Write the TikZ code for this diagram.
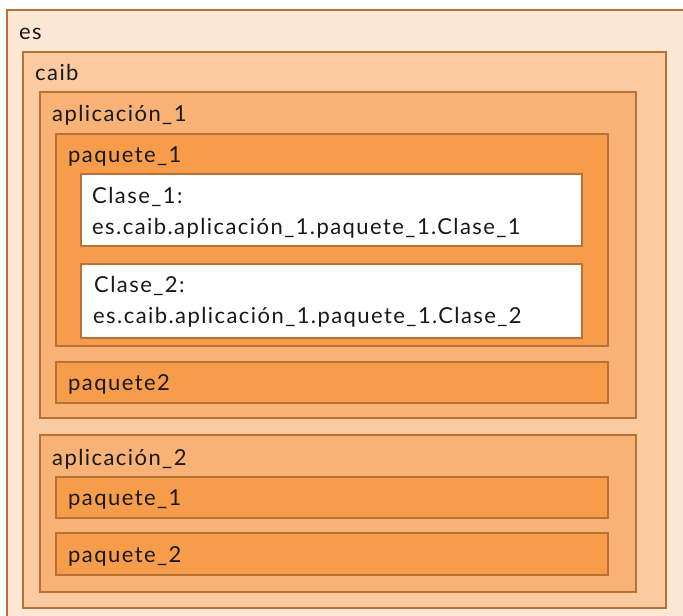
\documentclass[tikz,border=0pt]{standalone}
\usepackage{fontspec}
\setmainfont[LetterSpace=6.5]{Lato}
\usepackage{tikz}
\definecolor{esfill}{RGB}{253,232,214}
\definecolor{caibfill}{RGB}{250,202,160}
\definecolor{appfill}{RGB}{248,178,117}
\definecolor{pkgfill}{RGB}{247,156,75}
\definecolor{edge}{RGB}{184,114,54}
\begin{document}
\begin{tikzpicture}[x=1pt,y=-1pt,
  box/.style={draw=edge,line width=1.8pt},
  lbl/.style={anchor=base west,inner sep=0pt,font=\fontsize{22}{22}\selectfont,text=black!90}]
\useasboundingbox (0,0) rectangle (683,616);
\draw[box,fill=esfill](7,10)rectangle(700,630);
\draw[box,fill=caibfill](23,52)rectangle(666,608);
\draw[box,fill=appfill](40,92)rectangle(636,418);
\draw[box,fill=pkgfill](56,134)rectangle(608,346);
\draw[box,fill=white](81,174)rectangle(582,246);
\draw[box,fill=white](81,264)rectangle(582,338);
\draw[box,fill=pkgfill](56,362)rectangle(608,403);
\draw[box,fill=appfill](40,435)rectangle(636,592);
\draw[box,fill=pkgfill](56,477)rectangle(608,518);
\draw[box,fill=pkgfill](56,533)rectangle(608,575);
\node[lbl](es)at(19,39){es};
\node[lbl](caib)at(35,80){caib};
\node[lbl](app1)at(52,121){aplicación\_1};
\node[lbl](pkg11)at(68,162){paquete\_1};
\node[lbl](cls1)at(92,203){Clase\_1:};
\node[lbl](cls1q)at(92,234){es.caib.aplicación\_1.paquete\_1.Clase\_1};
\node[lbl](cls2)at(94,292){Clase\_2:};
\node[lbl](cls2q)at(93,323){es.caib.aplicación\_1.paquete\_1.Clase\_2};
\node[lbl](pkg12)at(68,390){paquete2};
\node[lbl](app2)at(52,465){aplicación\_2};
\node[lbl](pkg21)at(68,505){paquete\_1};
\node[lbl](pkg22)at(68,562){paquete\_2};
\end{tikzpicture}
\end{document}
